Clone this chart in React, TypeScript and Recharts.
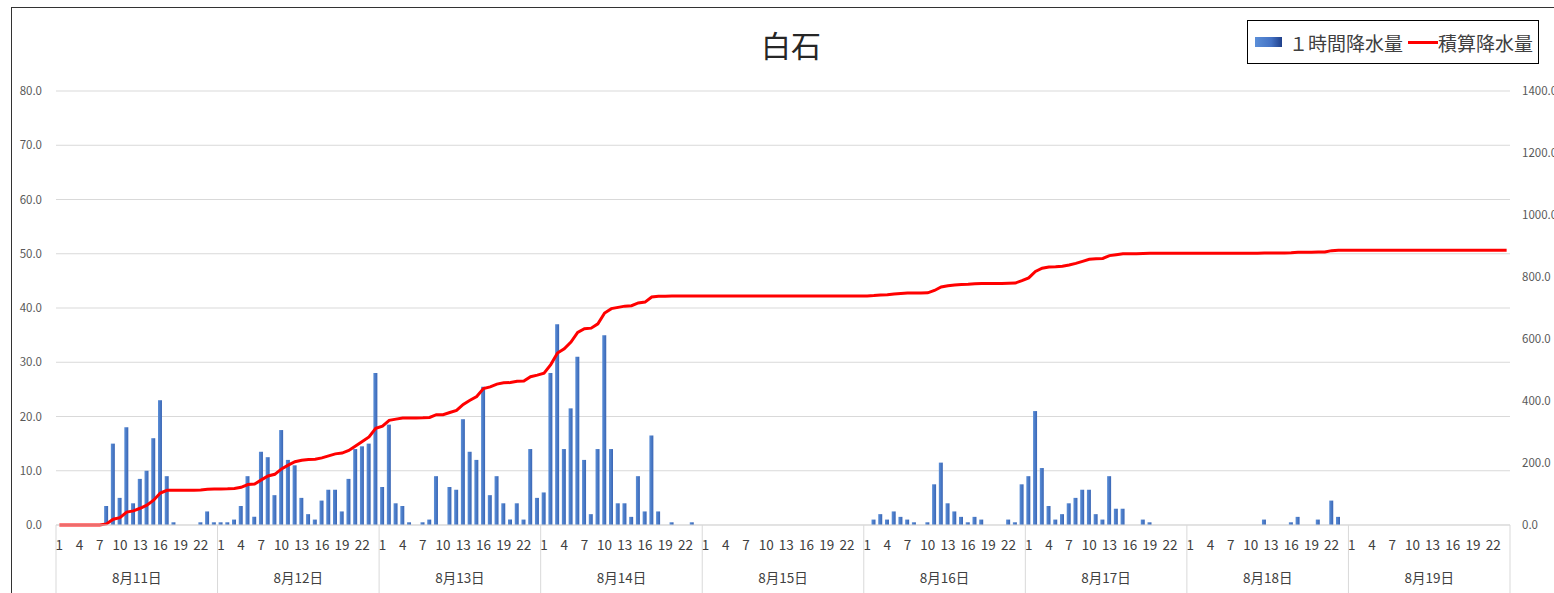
import {
  ComposedChart,
  Bar,
  Line,
  XAxis,
  YAxis,
  CartesianGrid,
} from "recharts";

const days = ["8月11日", "8月12日", "8月13日", "8月14日", "8月15日", "8月16日", "8月17日", "8月18日", "8月19日"];

// 1時間降水量 (mm), 1時〜24時
const rain11 = [0, 0, 0, 0, 0, 0, 0, 3.5, 15, 5, 18, 4, 8.5, 10, 16, 23, 9, 0.5, 0, 0, 0, 0.5, 2.5, 0.5];
const rain12 = [0.5, 0.5, 1, 3.5, 9, 1.5, 13.5, 12.5, 5.5, 17.5, 12, 11, 5, 2, 1, 4.5, 6.5, 6.5, 2.5, 8.5, 14, 14.5, 15, 28];
const rain13 = [7, 18.5, 4, 3.5, 0.5, 0, 0.5, 1, 9, 0, 7, 6.5, 19.5, 13.5, 12, 25.5, 5.5, 9, 4, 1, 4, 1, 14, 5];
const rain14 = [6, 28, 37, 14, 21.5, 31, 12, 2, 14, 35, 14, 4, 4, 1.5, 9, 2.5, 16.5, 2.5, 0, 0.5, 0, 0, 0.5, 0];
const rain15 = [0, 0, 0, 0, 0, 0, 0, 0, 0, 0, 0, 0, 0, 0, 0, 0, 0, 0, 0, 0, 0, 0, 0, 0];
const rain16 = [0, 1, 2, 1, 2.5, 1.5, 1, 0.5, 0, 0.5, 7.5, 11.5, 4, 2.5, 1.5, 0.5, 1.5, 1, 0, 0, 0, 1, 0.5, 7.5];
const rain17 = [9, 21, 10.5, 3.5, 1, 2, 4, 5, 6.5, 6.5, 2, 1, 9, 3, 3, 0, 0, 1, 0.5, 0, 0, 0, 0, 0];
const rain18 = [0, 0, 0, 0, 0, 0, 0, 0, 0, 0, 0, 1, 0, 0, 0, 0.5, 1.5, 0, 0, 1, 0, 4.5, 1.5, 0];
const rain19 = [0, 0, 0, 0, 0, 0, 0, 0, 0, 0, 0, 0, 0, 0, 0, 0, 0, 0, 0, 0, 0, 0, 0, 0];

// 積算降水量 (mm)
const total11 = [0, 0, 0, 0, 0, 0, 0, 3.5, 18.5, 23.5, 41.5, 45.5, 54, 64, 80, 103, 112, 112.5, 112.5, 112.5, 112.5, 113, 115.5, 116];
const total12 = [116.5, 117, 118, 121.5, 130.5, 132, 145.5, 158, 163.5, 181, 193, 204, 209, 211, 212, 216.5, 223, 229.5, 232, 240.5, 254.5, 269, 284, 312];
const total13 = [319, 337.5, 341.5, 345, 345.5, 345.5, 346, 347, 356, 356, 363, 369.5, 389, 402.5, 414.5, 440, 445.5, 454.5, 458.5, 459.5, 463.5, 464.5, 478.5, 483.5];
const total14 = [489.5, 517.5, 554.5, 568.5, 590, 621, 633, 635, 649, 684, 698, 702, 706, 707.5, 716.5, 719, 735.5, 738, 738, 738.5, 738.5, 738.5, 739, 739];
const total15 = [739, 739, 739, 739, 739, 739, 739, 739, 739, 739, 739, 739, 739, 739, 739, 739, 739, 739, 739, 739, 739, 739, 739, 739];
const total16 = [739, 740, 742, 743, 745.5, 747, 748, 748.5, 748.5, 749, 756.5, 768, 772, 774.5, 776, 776.5, 778, 779, 779, 779, 779, 780, 780.5, 788];
const total17 = [797, 818, 828.5, 832, 833, 835, 839, 844, 850.5, 857, 859, 860, 869, 872, 875, 875, 875, 876, 876.5, 876.5, 876.5, 876.5, 876.5, 876.5];
const total18 = [876.5, 876.5, 876.5, 876.5, 876.5, 876.5, 876.5, 876.5, 876.5, 876.5, 876.5, 877.5, 877.5, 877.5, 877.5, 878, 879.5, 879.5, 879.5, 880.5, 880.5, 885, 886.5, 886.5];
const total19 = [886.5, 886.5, 886.5, 886.5, 886.5, 886.5, 886.5, 886.5, 886.5, 886.5, 886.5, 886.5, 886.5, 886.5, 886.5, 886.5, 886.5, 886.5, 886.5, 886.5, 886.5, 886.5, 886.5, 886.5];

const leftTicks = [0, 10, 20, 30, 40, 50, 60, 70, 80];
const rightTicks = [0, 200, 400, 600, 800, 1000, 1200, 1400];

const rainByDay = [rain11, rain12, rain13, rain14, rain15, rain16, rain17, rain18, rain19];
const totalByDay = [total11, total12, total13, total14, total15, total16, total17, total18, total19];

const data = days.flatMap((day, d) =>
  rainByDay[d].map((v, h) => ({
    idx: d * 24 + h,
    day,
    hour: h + 1,
    rain: v,
    total: totalByDay[d][h],
  }))
);

const W = 1554;
const H = 593;
const LEFT_W = 56;
const RIGHT_W = 44;
const TOP = 91;
const XAXIS_H = 68;
const BAND = (W - LEFT_W - RIGHT_W) / data.length;
const FONT = '"Noto Sans CJK JP", "Noto Sans", sans-serif';

function HourTick(props: any) {
  const { x, y, payload } = props;
  const row = data[payload.value];
  if (!row) return null;
  const showHour = (row.hour - 1) % 3 === 0;
  return (
    <g>
      {row.hour === 1 && (
        <line x1={x - BAND / 2} x2={x - BAND / 2} y1={y} y2={y + XAXIS_H} stroke="#d9d9d9" />
      )}
      {row.idx === data.length - 1 && (
        <line x1={x + BAND / 2} x2={x + BAND / 2} y1={y} y2={y + XAXIS_H} stroke="#d9d9d9" />
      )}
      {showHour && (
        <text x={x} y={y + 25} textAnchor="middle" fontSize={13.5} fill="#404040" fontFamily={FONT}>
          {row.hour}
        </text>
      )}
      {row.hour === 12 && (
        <text x={x + BAND / 2} y={y + 58} textAnchor="middle" fontSize={13.5} fill="#404040" fontFamily={FONT}>
          {row.day}
        </text>
      )}
    </g>
  );
}

function LegendBox() {
  return (
    <div
      style={{
        position: "absolute",
        left: 1247,
        top: 20,
        border: "1.5px solid #000",
        width: 292,
        height: 44,
        boxSizing: "border-box",
        display: "flex",
        alignItems: "center",
        fontFamily: FONT,
        fontSize: 19,
        color: "#404040",
        background: "#fff",
        whiteSpace: "nowrap",
      }}
    >
      <span
        style={{
          display: "inline-block",
          width: 27,
          height: 10,
          marginLeft: 7,
          marginRight: 7,
          background: "linear-gradient(to right, #5b8fd8, #4472c4 60%, #1f3f8a)",
        }}
      />
      <span>１時間降水量</span>
      <span style={{ display: "inline-block", width: 30, height: 3, background: "#ff0000", marginLeft: 5 }} />
      <span>積算降水量</span>
    </div>
  );
}

export default function App() {
  return (
    <div style={{ position: "absolute", left: 0, top: 0, width: W, height: H, overflow: "hidden", background: "#fff" }}>
      <div
        style={{
          position: "absolute",
          left: 11,
          top: 7,
          width: W,
          height: H,
          border: "1.5px solid #333",
          boxSizing: "border-box",
        }}
      />
      <div
        style={{
          position: "absolute",
          left: 0,
          width: W,
          top: 22,
          textAlign: "center",
          fontFamily: FONT,
          fontSize: 30,
          color: "#262626",
          paddingLeft: 28,
          boxSizing: "border-box",
        }}
      >
        白石
      </div>
      <div style={{ position: "absolute", left: 0, top: 0 }}>
        <ComposedChart
          width={W}
          height={H}
          data={data}
          margin={{ top: TOP, right: 0, bottom: 0, left: 0 }}
        >
          <defs>
            <linearGradient id="barFill" x1="0" y1="0" x2="1" y2="0">
              <stop offset="0%" stopColor="#5b8fd8" />
              <stop offset="100%" stopColor="#3a66b5" />
            </linearGradient>
          </defs>
          <CartesianGrid yAxisId="l" vertical={false} stroke="#d9d9d9" />
          <XAxis
            dataKey="idx"
            type="category"
            interval={0}
            height={XAXIS_H}
            tickSize={0}
            tickMargin={0}
            tick={<HourTick />}
            axisLine={{ stroke: "#d9d9d9" }}
          />
          <YAxis
            yAxisId="l"
            width={LEFT_W}
            domain={[0, 80]}
            ticks={leftTicks}
            tickFormatter={(v: number) => v.toFixed(1)}
            tickSize={0}
            tickMargin={14}
            axisLine={false}
            tick={{ fontSize: 11.5, fill: "#595959", fontFamily: FONT }}
          />
          <YAxis
            yAxisId="r"
            orientation="right"
            width={RIGHT_W}
            domain={[0, 1400]}
            ticks={rightTicks}
            tickFormatter={(v: number) => v.toFixed(1)}
            tickSize={0}
            tickMargin={12}
            axisLine={false}
            tick={{ fontSize: 11.5, fill: "#595959", fontFamily: FONT, textAnchor: "start" }}
          />
          <Bar yAxisId="l" dataKey="rain" name="１時間降水量" fill="url(#barFill)" barSize={4} isAnimationActive={false} />
          <Line
            yAxisId="r"
            type="linear"
            dataKey="total"
            name="積算降水量"
            stroke="#ff0000"
            strokeWidth={3}
            dot={false}
            isAnimationActive={false}
          />
        </ComposedChart>
      </div>
      <LegendBox />
    </div>
  );
}
